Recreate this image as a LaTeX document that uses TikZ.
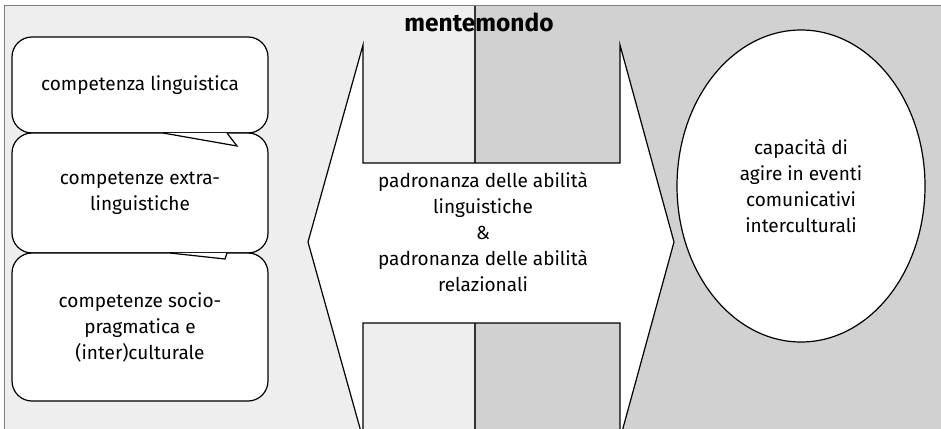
\documentclass[tikz,border=0pt]{standalone}
\usepackage{fontspec}
\setmainfont{Fira Sans}
\usepackage{tikz}
\usetikzlibrary{shapes,positioning}
\definecolor{mente}{HTML}{EEEEEE}
\definecolor{mondo}{HTML}{D0D1D0}
\definecolor{cornice}{HTML}{7F7F7F}

\begin{document}
\begin{tikzpicture}[x=1pt,y=-1pt,
    testo/.style={align=center, font=\fontsize{19}{26}\selectfont},
    box/.style={draw, line width=1.2pt, fill=white, rounded corners=20pt, minimum width=256pt, testo},
    linea/.style={line width=1.2pt}]
    \useasboundingbox (0,0) rectangle (941,428);
    \begin{scope}
    \clip (0,0) rectangle (941,428);
    % sfondo: mente / mondo
    \fill[mente] (4,6) rectangle (475,440);
    \fill[mondo] (475,6) rectangle (941,440);
    \draw[cornice, line width=1pt] (4,440) -- (4,6) -- (941,6);
    \draw[linea, black!80] (475,6) -- (475,440);
    % freccia doppia
    \draw[linea, fill=white] (363,45) -- (363,163) -- (620,163) -- (620,45) -- (674,242)
        -- (620,439) -- (620,323) -- (363,323) -- (363,439) -- (308,242) -- cycle;
    \end{scope}
    \node (title) at (479,22) [font=\fontsize{24.5}{28}\selectfont\bfseries] {mentemondo};

    \node (ling) at (140,85) [box, minimum height=96pt] {competenza linguistica};
    \node (extra) at (140,193) [box, minimum height=120pt] {competenze extra-\\linguistiche};
    \node (socio) at (140,327) [box, minimum height=148pt] {competenze socio-\\pragmatica e\\(inter)culturale};
    % code dei fumetti
    \filldraw[linea, fill=white] (163,133) -- (237,146) -- (227,133);
    \filldraw[linea, fill=white] (170,253) -- (225,259) -- (227,253);

    \node (abil) at (483,232) [testo] {padronanza delle abilità\\linguistiche\\\&\\padronanza delle abilità\\relazionali};
    \node (capac) at (801,186) [draw, linea, ellipse, fill=white, minimum width=248pt, minimum height=312pt, testo] {capacità di\\agire in eventi\\comunicativi\\interculturali};
\end{tikzpicture}
\end{document}
